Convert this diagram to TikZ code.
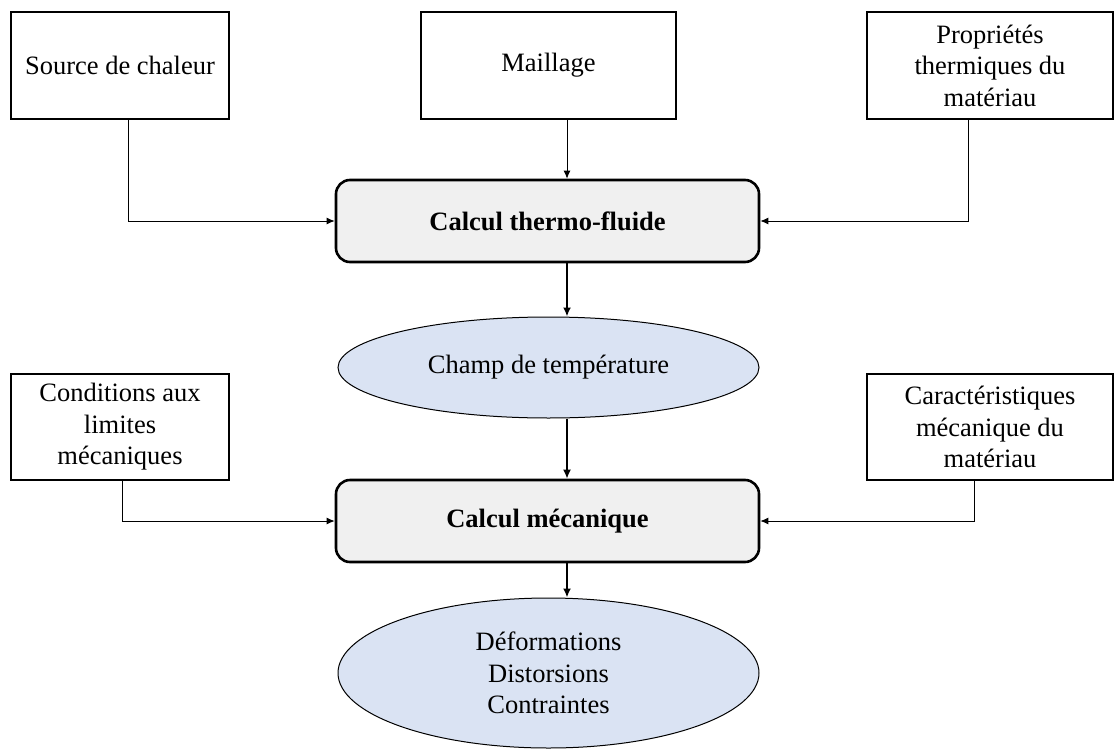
\documentclass[tikz,border=0pt]{standalone}
\usepackage{fontspec}
\setmainfont{Liberation Serif}
\usetikzlibrary{arrows.meta,shapes.geometric}
\definecolor{calcfill}{RGB}{240,240,240}
\definecolor{elfill}{RGB}{218,227,243}
\tikzset{
  txt/.style={font=\fontsize{26.5}{31.5}\selectfont, align=center, inner sep=0pt},
  inbox/.style={txt, draw, line width=1.6pt, rectangle},
  calc/.style={txt, draw, line width=2.6pt, rounded corners=14pt, fill=calcfill, font=\fontsize{26.5}{31.5}\selectfont\bfseries},
  elli/.style={txt, draw, line width=1pt, ellipse, fill=elfill},
  conn/.style={line width=1pt, -{Latex[length=8pt,width=7pt]}},
  flow/.style={line width=2.4pt, -{Latex[length=9pt,width=8pt]}}
}
\begin{document}
\begin{tikzpicture}[x=1pt,y=-1pt]
\useasboundingbox (0,0) rectangle (1115,749);
\node[inbox, minimum width=218pt, minimum height=107pt] (src) at (120,65.5) {Source de chaleur};
\node[inbox, minimum width=255pt, minimum height=107pt] (mesh) at (548.5,65.5) {Maillage};
\node[inbox, minimum width=246pt, minimum height=107pt] (prop) at (990,65.5) {Propriétés\\thermiques du\\matériau};
\node[calc, minimum width=423pt, minimum height=82pt] (thermo) at (547.5,221) {Calcul thermo-fluide};
\node[elli, minimum width=421pt, minimum height=101pt] (champ) at (548.5,367.5) {Champ de température};
\node[inbox, minimum width=218pt, minimum height=106pt] (cond) at (120,427) {Conditions aux\\limites\\mécaniques};
\node[calc, minimum width=423pt, minimum height=82pt] (meca) at (547.5,521) {Calcul mécanique};
\node[inbox, minimum width=246pt, minimum height=106pt] (carac) at (990,427) {Caractéristiques\\mécanique du\\matériau};
\node[elli, minimum width=421pt, minimum height=150pt] (def) at (548.5,673) {Déformations\\Distorsions\\Contraintes};

\draw[conn] ([xshift=8pt]src.south) |- (thermo.west);
\draw[conn] ([xshift=18.5pt]mesh.south) -- ([xshift=18.5pt]mesh.south |- thermo.north);
\draw[conn] ([xshift=-22pt]prop.south) |- (thermo.east);
\draw[conn] ([xshift=2pt]cond.south) |- (meca.west);
\draw[conn] ([xshift=-16pt]carac.south) |- (meca.east);

\draw[flow] ([xshift=19.5pt]thermo.south) -- ([xshift=19.5pt]thermo.south |- champ.north);
\draw[flow] ([xshift=18.5pt]champ.south) -- ([xshift=18.5pt]champ.south |- meca.north);
\draw[flow] ([xshift=19.5pt]meca.south) -- ([xshift=19.5pt]meca.south |- def.north);
\end{tikzpicture}
\end{document}
